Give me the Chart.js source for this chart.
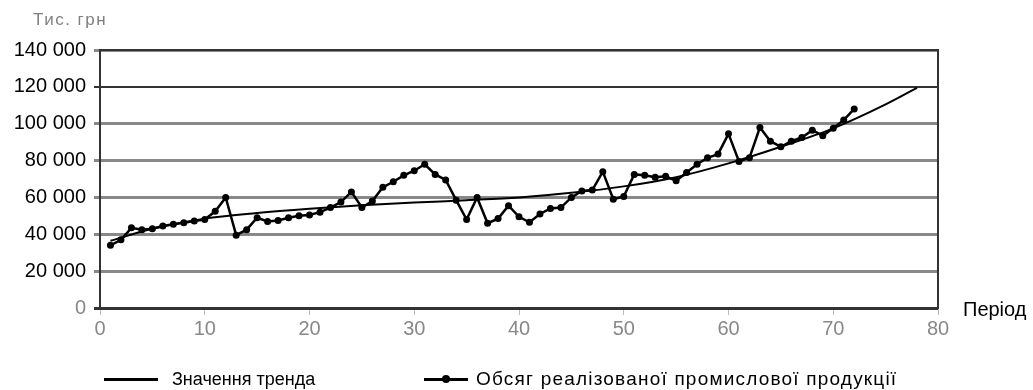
<!DOCTYPE html>
<html>
<head>
<meta charset="utf-8">
<script src="https://cdn.jsdelivr.net/npm/chart.js@4/dist/chart.umd.min.js"></script>
<style>
  html,body{margin:0;padding:0;background:#fff;}
  #wrap{position:relative;width:1033px;height:390px;overflow:hidden;font-family:"Liberation Sans",Arial,sans-serif;}
  canvas{position:absolute;left:0;top:0;}
  .lbl{position:absolute;white-space:nowrap;}
  #unit{left:33px;top:10px;font-size:17px;color:#808080;letter-spacing:1.5px;}
  #period{left:963px;top:298px;font-size:20px;color:#000;}
  .leg{position:absolute;top:369px;font-size:18px;color:#000;white-space:nowrap;}
  .sw{position:absolute;height:3px;background:#000;}
  .dot{position:absolute;width:8px;height:8px;border-radius:50%;background:#000;}
</style>
</head>
<body>
<div id="wrap">
  <canvas id="c" width="1033" height="390"></canvas>
  <div class="lbl" id="unit">Тис. грн</div>
  <div class="lbl" id="period">Період</div>
  <div class="sw" style="left:104px;top:378px;width:54px;"></div>
  <div class="leg" style="left:172px;">Значення тренда</div>
  <div class="sw" style="left:424px;top:378px;width:44px;"></div>
  <div class="dot" style="left:442px;top:375px;"></div>
  <div class="leg" style="left:476px;top:368px;font-size:19px;letter-spacing:1.2px;">Обсяг реалізованої промислової продукції</div>
</div>
<script>
const periods = [1,2,3,4,5,6,7,8,9,10,11,12,13,14,15,16,17,18,19,20,21,22,23,24,25,26,27,28,29,30,31,32,33,34,35,36,37,38,39,40,41,42,43,44,45,46,47,48,49,50,51,52,53,54,55,56,57,58,59,60,61,62,63,64,65,66,67,68,69,70,71,72];
const salesValues = [34000,37000,43500,42500,43000,44500,45500,46300,47200,48000,52500,60000,39500,42500,49000,47000,47500,49000,50000,50500,52000,54500,57500,63000,54500,58000,65500,68500,72000,74500,78000,72500,69500,58500,48000,60000,46000,48500,55500,49500,46500,51000,54000,54500,60000,63500,64000,74000,59000,60500,72500,72000,71000,71500,69000,73500,78000,81500,83500,94500,79500,81500,98000,90500,87500,90500,92500,96500,93500,97500,102000,108000];
const trendPeriods = [1,5,10,15,20,25,30,35,40,45,50,55,60,65,70,75,78];
const trendValues = [36500,43000,48500,51500,53800,55700,57200,58500,60000,62500,66000,71000,78500,87500,97500,110500,119500];
const xTicks = [0,10,20,30,40,50,60,70,80];
const yTicks = [0,20000,40000,60000,80000,100000,120000,140000];

const salesData = periods.map((p,i)=>({x:p,y:salesValues[i]}));
const trendData = trendPeriods.map((p,i)=>({x:p,y:trendValues[i]}));

const fmt = v => String(v).replace(/\B(?=(\d{3})+(?!\d))/g,' ');

const boxPlugin = {
  id:'box',
  afterDatasetsDraw(chart){
    const {ctx, chartArea:a} = chart;
    ctx.save();
    ctx.strokeStyle='#333';
    ctx.lineWidth=2;
    ctx.beginPath();
    ctx.moveTo(a.left,a.top); ctx.lineTo(a.right,a.top); ctx.lineTo(a.right,a.bottom);
    ctx.stroke();
    ctx.restore();
  }
};

new Chart(document.getElementById('c'),{
  type:'line',
  data:{datasets:[
    {label:'Обсяг реалізованої промислової продукції',data:salesData,borderColor:'#000',backgroundColor:'#000',borderWidth:2.5,pointRadius:3.5,pointBackgroundColor:'#000',pointBorderWidth:0,tension:0,order:1},
    {label:'Значення тренда',data:trendData,borderColor:'#000',borderWidth:2,pointRadius:0,cubicInterpolationMode:'monotone',order:2}
  ]},
  options:{
    responsive:false,animation:false,
    layout:{padding:{top:50,right:95,bottom:50,left:0}},
    plugins:{legend:{display:false},tooltip:{enabled:false}},
    scales:{
      x:{type:'linear',min:0,max:80,
        afterBuildTicks(s){s.ticks=xTicks.map(v=>({value:v}));},
        afterFit(s){s.height=32;},
        grid:{display:true,drawOnChartArea:false,drawTicks:true,tickLength:7,color:'#bbb'},
        border:{display:true,color:'#333',width:2},
        ticks:{padding:2,color:'#888',font:{family:'"Liberation Sans", Arial',size:20},maxRotation:0}
      },
      y:{min:0,max:140000,
        afterBuildTicks(s){s.ticks=yTicks.map(v=>({value:v}));},
        afterFit(s){s.width=100;},
        grid:{drawTicks:true,tickLength:6,
          color:c=>c.tick && c.tick.value===120000?'#333':(c.tick && c.tick.value===0?'#333':'#888'),
          lineWidth:c=>c.tick && c.tick.value===120000?2:3},
        border:{display:true,color:'#333',width:2},
        ticks:{padding:8,color:c=>c.tick.value===0?'#888':'#000',font:{family:'"Liberation Sans", Arial',size:20},callback:v=>fmt(v)}
      }
    }
  },
  plugins:[boxPlugin]
});
</script>
</body>
</html>
